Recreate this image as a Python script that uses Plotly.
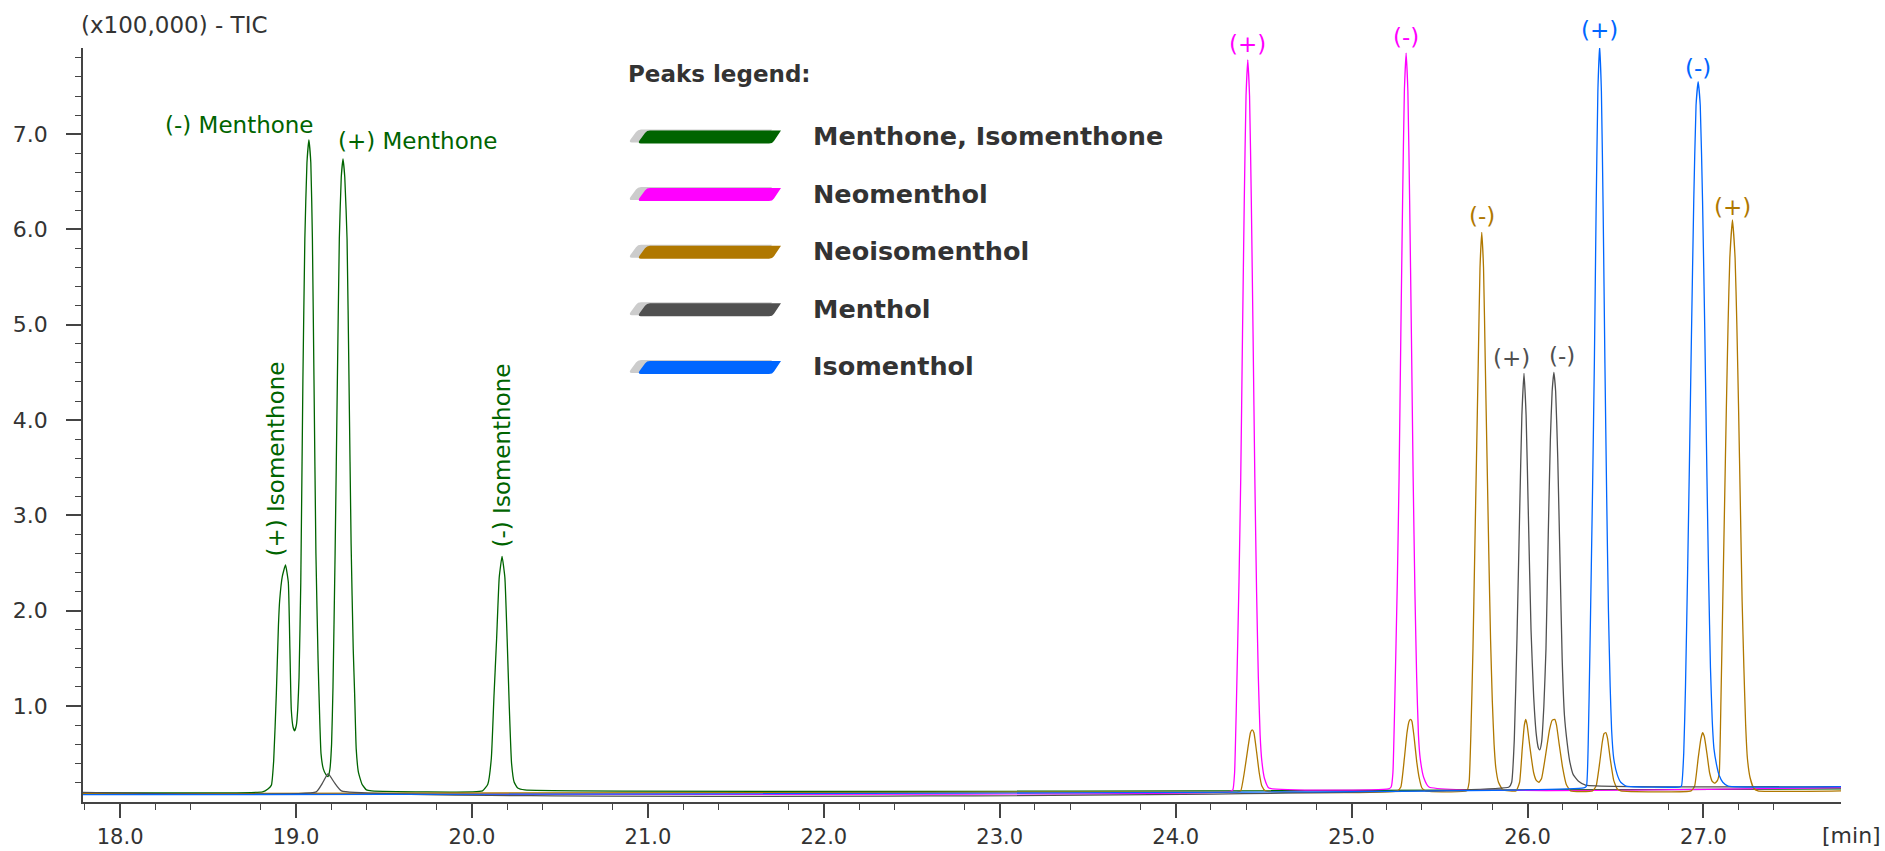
import plotly.graph_objects as go

# ---------------- data ----------------
green_t = [17.789, 18.81, 18.84, 18.86, 18.873, 18.888, 18.90, 18.907, 18.922, 18.94, 18.956, 18.965, 18.973,
           18.983, 18.992, 19.002, 19.01, 19.017, 19.027, 19.039, 19.05, 19.062, 19.073, 19.084, 19.093, 19.102,
           19.113, 19.125, 19.134, 19.142, 19.155, 19.17, 19.182, 19.192, 19.202, 19.21, 19.222, 19.235, 19.246,
           19.257, 19.267, 19.277, 19.29, 19.301, 19.313, 19.325, 19.333, 19.342, 19.355, 19.375, 19.40, 19.43,
           20.06, 20.09, 20.11, 20.125, 20.14, 20.155, 20.171, 20.187, 20.20, 20.212, 20.225, 20.24, 20.26, 20.30,
           27.782]
green_v = [0.09, 0.10, 0.13, 0.17, 0.43, 1.13, 1.85, 2.11, 2.36, 2.48, 2.30, 1.60, 0.96,
           0.78, 0.74, 0.80, 0.98, 1.30, 2.30, 4.42, 5.90, 6.70, 6.94, 6.70, 5.90, 4.42,
           2.60, 1.50, 0.90, 0.50, 0.34, 0.28, 0.26, 0.33, 0.60, 1.20, 2.60, 4.42, 5.90,
           6.55, 6.74, 6.55, 5.90, 4.42, 2.70, 1.60, 1.13, 0.55, 0.30, 0.18, 0.12, 0.11,
           0.11, 0.18, 0.45, 1.10, 1.70, 2.35, 2.57, 2.35, 1.70, 1.00, 0.40, 0.20, 0.14, 0.12,
           0.13]

magenta_t = [17.789, 24.30, 24.325, 24.335, 24.345, 24.36, 24.37, 24.38, 24.39, 24.40, 24.41, 24.42, 24.43,
             24.44, 24.45, 24.46, 24.47, 24.48, 24.49, 24.505, 24.53,
             25.21, 25.225, 25.235, 25.245, 25.26, 25.27, 25.28, 25.29, 25.30, 25.31, 25.32, 25.33,
             25.34, 25.35, 25.36, 25.37, 25.38, 25.39, 25.41, 25.44, 27.782]
magenta_v = [0.08, 0.10, 0.12, 0.30, 1.00, 2.30, 3.40, 4.90, 6.30, 7.40, 7.78, 7.40, 6.30,
             4.90, 3.40, 2.20, 1.30, 0.70, 0.42, 0.24, 0.14,
             0.13, 0.15, 0.30, 1.00, 2.30, 3.40, 4.90, 6.30, 7.45, 7.85, 7.45, 6.30,
             4.90, 3.40, 2.20, 1.30, 0.70, 0.45, 0.25, 0.15, 0.145]

brown_t = [17.789, 24.35, 24.37, 24.39, 24.41, 24.425, 24.435, 24.445, 24.46, 24.475, 24.49, 24.51,
           25.26, 25.28, 25.30, 25.315, 25.327, 25.335, 25.343, 25.355, 25.37, 25.385, 25.40, 25.42,
           25.655, 25.668, 25.678, 25.69, 25.70, 25.71, 25.72, 25.73, 25.74, 25.75, 25.76, 25.77, 25.78,
           25.79, 25.80, 25.81, 25.82, 25.835, 25.86,
           25.935, 25.955, 25.97, 25.982, 25.99, 25.998, 26.015, 26.035, 26.05, 26.065, 26.08, 26.10,
           26.125, 26.14, 26.155, 26.165, 26.18, 26.20, 26.22, 26.245,
           26.37, 26.39, 26.41, 26.425, 26.435, 26.445, 26.455, 26.47, 26.49, 26.51, 26.53,
           26.93, 26.95, 26.97, 26.985, 26.995, 27.005, 27.02, 27.035, 27.05, 27.065, 27.08, 27.09,
           27.10, 27.11, 27.12, 27.13, 27.14, 27.15, 27.165, 27.18, 27.19, 27.20, 27.21, 27.22, 27.23,
           27.24, 27.25, 27.265, 27.285, 27.31, 27.782]
brown_v = [0.08, 0.10, 0.11, 0.30, 0.55, 0.72, 0.75, 0.72, 0.52, 0.30, 0.16, 0.11,
           0.11, 0.15, 0.45, 0.72, 0.84, 0.86, 0.84, 0.68, 0.42, 0.24, 0.14, 0.11,
           0.11, 0.20, 0.70, 1.60, 2.60, 3.60, 4.60, 5.60, 5.97, 5.60, 4.60, 3.60, 2.60,
           1.70, 1.05, 0.60, 0.35, 0.20, 0.12,
           0.11, 0.20, 0.55, 0.80, 0.86, 0.80, 0.55, 0.30, 0.22, 0.20, 0.24, 0.45,
           0.75, 0.85, 0.86, 0.80, 0.60, 0.35, 0.18, 0.11,
           0.11, 0.16, 0.40, 0.62, 0.71, 0.72, 0.66, 0.45, 0.22, 0.13, 0.11,
           0.11, 0.16, 0.45, 0.65, 0.72, 0.68, 0.50, 0.30, 0.21, 0.19, 0.22, 0.30,
           1.10, 2.10, 3.10, 4.10, 5.00, 5.70, 6.10, 5.70, 5.00, 4.10, 3.10, 2.10, 1.40,
           0.80, 0.45, 0.25, 0.14, 0.11, 0.11]

gray_t = [17.789, 19.115, 19.15, 19.182, 19.22, 19.258,
          25.895, 25.91, 25.925, 25.94, 25.955, 25.968, 25.98, 25.992, 26.005, 26.02, 26.035, 26.05, 26.062,
          26.07, 26.08, 26.093, 26.105, 26.118, 26.13, 26.14, 26.15, 26.16, 26.172, 26.185, 26.197, 26.21,
          26.225, 26.24, 26.26, 26.29, 26.33, 27.782]
gray_v = [0.095, 0.10, 0.19, 0.29, 0.19, 0.11,
          0.15, 0.20, 0.65, 1.70, 3.00, 4.05, 4.49, 4.05, 3.00, 1.80, 1.10, 0.70, 0.56,
          0.54, 0.62, 1.00, 1.60, 2.80, 3.80, 4.30, 4.50, 4.30, 3.60, 2.50, 1.50, 0.90,
          0.62, 0.42, 0.28, 0.21, 0.17, 0.155]

blue_t = [17.789, 26.32, 26.335, 26.345, 26.355, 26.37, 26.38, 26.39, 26.40, 26.41, 26.42, 26.43, 26.44,
          26.45, 26.46, 26.47, 26.478, 26.49, 26.51, 26.53, 26.56,
          26.86, 26.875, 26.888, 26.898, 26.91, 26.92, 26.932, 26.945, 26.958, 26.97, 26.982, 26.995,
          27.008, 27.02, 27.03, 27.04, 27.05, 27.06, 27.075, 27.09, 27.11, 27.14, 27.782]
blue_v = [0.07, 0.14, 0.16, 0.60, 1.60, 3.30, 4.60, 6.20, 7.45, 7.93, 7.45, 6.20, 4.60,
          3.20, 2.00, 1.20, 0.75, 0.45, 0.28, 0.20, 0.16,
          0.15, 0.16, 0.50, 1.20, 2.40, 3.50, 4.90, 6.30, 7.30, 7.55, 7.30, 6.30,
          4.90, 3.40, 2.30, 1.40, 0.85, 0.55, 0.38, 0.27, 0.20, 0.16, 0.155]

legend_names = ["Menthone, Isomenthone", "Neomenthol", "Neoisomenthol", "Menthol", "Isomenthol"]

label_text = ["(-) Menthone", "(+) Menthone", "(+) Isomenthone", "(-) Isomenthone",
              "(+)", "(-)", "(-)", "(+)", "(+)", "(-)", "(+)", "(-)"]
label_t = [19.073, 19.267, 18.94, 20.171, 24.41, 25.31, 25.74, 27.165, 25.98, 26.15, 26.41, 26.97]
label_v = [6.94, 6.74, 2.48, 2.57, 7.78, 7.85, 5.97, 6.10, 4.49, 4.50, 7.93, 7.55]

x_ticks = [18, 19, 20, 21, 22, 23, 24, 25, 26, 27]
y_ticks = [1, 2, 3, 4, 5, 6, 7]

# ---------------- styling ----------------
C_GREEN, C_MAG, C_BROWN, C_GRAY, C_BLUE = "#006400", "#ff00ff", "#b07800", "#505050", "#0066ff"
TXT = "#333333"
AX = "#444444"
FONT = "DejaVu Sans"

W, H = 1885, 851
L, R, T, B = 83, 1841, 48, 802
X_RANGE = [17.789, 27.782]
Y_RANGE = [-0.007, 7.904]


def pxx(px):
    return (px - L) / (R - L)


def pxy(py):
    return (B - py) / (B - T)


def vy(v):
    return (v - Y_RANGE[0]) / (Y_RANGE[1] - Y_RANGE[0])


fig = go.Figure()
series = [(green_t, green_v, C_GREEN), (magenta_t, magenta_v, C_MAG), (brown_t, brown_v, C_BROWN),
          (gray_t, gray_v, C_GRAY), (blue_t, blue_v, C_BLUE)]
for (tt, vv, col), name in zip(series, legend_names):
    fig.add_trace(go.Scatter(x=tt, y=vv, mode="lines", name=name, cliponaxis=False,
                             line=dict(color=col, width=1.3, shape="spline", smoothing=0.4),
                             showlegend=False, hoverinfo="skip"))

# peak labels
label_colors = [C_GREEN, C_GREEN, C_GREEN, C_GREEN, C_MAG, C_MAG, C_BROWN, C_BROWN, C_GRAY, C_GRAY, C_BLUE, C_BLUE]
label_style = [  # (xanchor, xshift, yshift, angle)
    ("right", 7, 15, 0), ("left", -7, 18, 0), ("center", -10, 106, -90), ("center", 0, 101, -90),
    ("center", 0, 16, 0), ("center", 0, 16, 0), ("center", 0, 16, 0), ("center", 0, 13, 0),
    ("center", -12, 15, 0), ("center", 8, 16, 0), ("center", 0, 16, 0), ("center", 0, 14, 0),
]
for txt, tx, v, col, (xa, xs, ys, ang) in zip(label_text, label_t, label_v, label_colors, label_style):
    fig.add_annotation(x=tx, y=vy(v), xref="x", yref="paper", text=txt, showarrow=False,
                       xanchor=xa, yanchor="middle", xshift=xs, yshift=ys, textangle=ang,
                       font=dict(family=FONT, size=23, color=col))

# title and axis unit
fig.add_annotation(x=pxx(79), y=pxy(25), xref="paper", yref="paper", text="(x100,000) - TIC",
                   showarrow=False, xanchor="left", yanchor="middle",
                   font=dict(family=FONT, size=23, color=TXT))
fig.add_annotation(x=pxx(1820), y=pxy(835), xref="paper", yref="paper", text="[min]",
                   showarrow=False, xanchor="left", yanchor="middle",
                   font=dict(family=FONT, size=22, color=TXT))

# custom legend
fig.add_annotation(x=pxx(626), y=pxy(74), xref="paper", yref="paper", text="<b>Peaks legend:</b>",
                   showarrow=False, xanchor="left", yanchor="middle",
                   font=dict(family=FONT, size=23, color=TXT))


def bar_path(yc, dx=0.0, dy=0.0):
    top, bot = yc - 6.5 + dy, yc + 6.5 + dy
    pts = [("M", 650, top), ("L", 781, top), ("L", 774, bot - 2.5), ("Q", 772.5, bot, 769, bot),
           ("L", 641, bot), ("Q", 637.5, bot, 639.5, bot - 3), ("L", 645, top + 2.5),
           ("Q", 646.8, top, 650, top)]
    s = ""
    for p in pts:
        if p[0] == "Q":
            s += "Q %.5f,%.5f %.5f,%.5f " % (pxx(p[1] + dx), pxy(p[2]), pxx(p[3] + dx), pxy(p[4]))
        else:
            s += "%s %.5f,%.5f " % (p[0], pxx(p[1] + dx), pxy(p[2]))
    return s + "Z"


row_colors = [C_GREEN, C_MAG, C_BROWN, C_GRAY, C_BLUE]
for i, (name, col) in enumerate(zip(legend_names, row_colors)):
    yc = 137 + i * 57.6
    fig.add_shape(type="path", xref="paper", yref="paper", path=bar_path(yc, dx=-9, dy=-1),
                  fillcolor="#cccccc", line=dict(width=0), layer="above")
    fig.add_shape(type="path", xref="paper", yref="paper", path=bar_path(yc),
                  fillcolor=col, line=dict(width=0), layer="above")
    fig.add_annotation(x=pxx(811), y=pxy(yc - 1), xref="paper", yref="paper", text="<b>%s</b>" % name,
                       showarrow=False, xanchor="left", yanchor="middle",
                       font=dict(family=FONT, size=25.5, color=TXT))

minor_y = [round(k * 0.2, 1) for k in range(1, 40) if k % 5 != 0]
minor_x = [round(17.8 + k * 0.2, 1) for k in range(0, 51) if (k + 1) % 5 != 0]

fig.update_layout(
    width=W, height=H, margin=dict(l=L, r=W - R, t=T, b=H - B, pad=0, autoexpand=False),
    paper_bgcolor="white", plot_bgcolor="white",
    font=dict(family=FONT, color=TXT),
    xaxis=dict(range=X_RANGE, showgrid=False, zeroline=False, showline=True, linecolor=AX, linewidth=1.5,
               automargin=False,
               ticks="outside", ticklen=14, tickwidth=1.5, tickcolor=AX,
               tickvals=x_ticks, ticktext=["%.1f" % v for v in x_ticks],
               tickfont=dict(family=FONT, size=21, color=TXT), ticklabelstandoff=1,
               minor=dict(tickvals=minor_x, ticks="outside", ticklen=6, tickwidth=1.2, tickcolor=AX)),
    yaxis=dict(range=Y_RANGE, showgrid=False, zeroline=False, showline=True, linecolor=AX, linewidth=1.5,
               automargin=False,
               ticks="outside", ticklen=15, tickwidth=1.5, tickcolor=AX,
               tickvals=y_ticks, ticktext=["%.1f" % v for v in y_ticks],
               tickfont=dict(family=FONT, size=22, color=TXT), ticklabelstandoff=14,
               minor=dict(tickvals=minor_y, ticks="outside", ticklen=6, tickwidth=1.2, tickcolor=AX)),
)

fig.write_html("out.html", config={"displayModeBar": False},
               post_script="document.body.style.margin='0px';document.body.style.overflow='hidden';")
